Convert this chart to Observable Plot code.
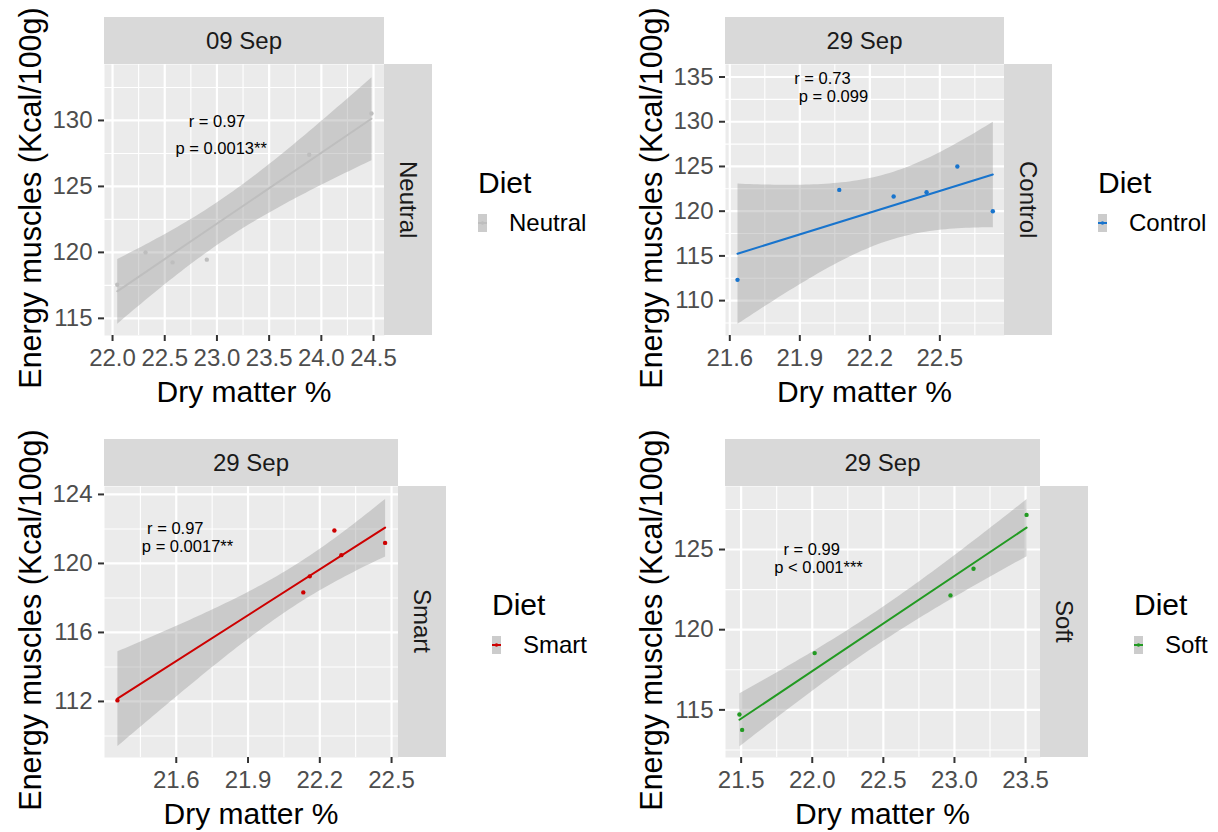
<!DOCTYPE html>
<html>
<head>
<meta charset="utf-8">
<script src="https://cdn.jsdelivr.net/npm/d3@7"></script>
<script src="https://cdn.jsdelivr.net/npm/@observablehq/plot@0.6"></script>
<style>
  body { margin: 0; background: #fff; }
  #root { position: relative; width: 1218px; height: 832px; overflow: hidden;
          font-family: "Liberation Sans", Arial, sans-serif; background: #fff; }
  .strip { position: absolute; background: #D9D9D9; color: #1A1A1A; font-size: 24px;
           display: flex; align-items: center; justify-content: center; white-space: nowrap; }
  .vtext { writing-mode: vertical-rl; }
  .title { position: absolute; font-size: 30px; color: #000; white-space: nowrap;
           transform: translate(-50%, -50%); line-height: 1; }
  .ytitle { transform: translate(-50%, -50%) rotate(-90deg); font-size: 30.5px; }
  .legtitle { position: absolute; font-size: 30px; color: #000; white-space: nowrap; line-height: 1; }
  .legtext { position: absolute; font-size: 24px; color: #000; white-space: nowrap; line-height: 1;
             transform: translateY(-50%); }
  .plotbox { position: absolute; }
</style>
</head>
<body>
<div id="root"></div>
<script>
// ---------------- data ----------------
const diets = ["Neutral", "Control", "Smart", "Soft"];
const dates = ["09 Sep", "29 Sep", "29 Sep", "29 Sep"];

const neutralDry    = [22.045, 22.316, 22.575, 22.903, 23.884, 24.48];
const neutralEnergy = [117.55, 120.0, 119.24, 119.45, 127.4, 130.53];

const controlDry    = [21.633, 22.069, 22.302, 22.443, 22.575, 22.727];
const controlEnergy = [112.32, 122.38, 121.64, 122.13, 125.0, 120.0];

const smartDry      = [21.354, 22.131, 22.158, 22.261, 22.290, 22.473];
const smartEnergy   = [112.06, 118.32, 119.25, 121.91, 120.48, 121.19];

const softDry       = [21.488, 21.507, 22.017, 22.972, 23.134, 23.507];
const softEnergy    = [114.71, 113.75, 118.54, 122.14, 123.80, 127.16];

// tick values
const neutralXTicks = [22.0, 22.5, 23.0, 23.5, 24.0, 24.5];
const neutralYTicks = [115, 120, 125, 130];
const controlXTicks = [21.6, 21.9, 22.2, 22.5];
const controlYTicks = [110, 115, 120, 125, 130, 135];
const smartXTicks   = [21.6, 21.9, 22.2, 22.5];
const smartYTicks   = [112, 116, 120, 124];
const softXTicks    = [21.5, 22.0, 22.5, 23.0, 23.5];
const softYTicks    = [115, 120, 125];

// correlation annotations
const statR = ["r = 0.97", "r = 0.73", "r = 0.97", "r = 0.99"];
const statP = ["p = 0.0013**", "p = 0.099", "p = 0.0017**", "p < 0.001***"];
const statRX = [23.0, 21.997, 21.596, 21.996];
const statRY = [129.9, 134.85, 122.0, 124.98];
const statPX = [23.041, 22.044, 21.647, 22.044];
const statPY = [127.88, 132.8, 120.95, 123.86];

const xLabel = "Dry matter %";
const yLabel = "Energy muscles (Kcal/100g)";
const legendTitle = "Diet";

// ---------------- layout / styles ----------------
const colors = ["#BEBEBE", "#1874CD", "#CD0000", "#229A22"];
const xs = [neutralDry, controlDry, smartDry, softDry];
const ys = [neutralEnergy, controlEnergy, smartEnergy, softEnergy];
const xTicksAll = [neutralXTicks, controlXTicks, smartXTicks, softXTicks];
const yTicksAll = [neutralYTicks, controlYTicks, smartYTicks, softYTicks];

const layout = [
  {left: 104, top: 64,  w: 280, h: 271, xd: [21.923, 24.605], yd: [113.70, 134.24]},
  {left: 725, top: 64,  w: 279, h: 271, xd: [21.5816, 22.777], yd: [106.10, 136.40]},
  {left: 104, top: 486, w: 294, h: 271, xd: [21.300, 22.529], yd: [108.75, 124.46]},
  {left: 725, top: 486, w: 315, h: 271, xd: [21.390, 23.605], yd: [112.03, 128.93]}
];

function minorTicks(ticks, domain) {
  const step = ticks[1] - ticks[0];
  const out = [];
  for (let i = -1; i < ticks.length; i++) {
    const v = (i < 0 ? ticks[0] - step : ticks[i]) + step / 2;
    if (v > domain[0] && v < domain[1]) out.push(+v.toFixed(6));
  }
  return out;
}

const root = document.getElementById("root");
function div(cls, style, text) {
  const d = document.createElement("div");
  if (cls) d.className = cls;
  Object.assign(d.style, style);
  if (text != null) d.textContent = text;
  root.appendChild(d);
  return d;
}

const ML = 72, MB = 48;

diets.forEach((diet, i) => {
  const L = layout[i];
  const data = xs[i].map((x, j) => ({dry: x, energy: ys[i][j]}));
  const xt = xTicksAll[i], yt = yTicksAll[i];
  const xm = minorTicks(xt, L.xd), ym = minorTicks(yt, L.yd);
  const ann = [
    {x: statRX[i], y: statRY[i], t: statR[i]},
    {x: statPX[i], y: statPY[i], t: statP[i]}
  ];

  const chart = Plot.plot({
    width: L.w + ML,
    height: L.h + MB,
    marginLeft: ML, marginRight: 0, marginTop: 0, marginBottom: MB,
    style: {fontFamily: "Liberation Sans, Arial, sans-serif", fontSize: "24px",
            background: "transparent", overflow: "visible", maxWidth: "none"},
    x: {domain: L.xd},
    y: {domain: L.yd},
    marks: [
      Plot.frame({fill: "#EBEBEB", stroke: null}),
      Plot.ruleX(xm, {stroke: "#FFFFFF", strokeWidth: 1.1}),
      Plot.ruleY(ym, {stroke: "#FFFFFF", strokeWidth: 1.1}),
      Plot.ruleX(xt, {stroke: "#FFFFFF", strokeWidth: 2.2}),
      Plot.ruleY(yt, {stroke: "#FFFFFF", strokeWidth: 2.2}),
      Plot.linearRegressionY(data, {x: "dry", y: "energy", stroke: colors[i], strokeWidth: 2,
        fill: "#999999", fillOpacity: 0.4, ci: 0.95}),
      Plot.dot(data, {x: "dry", y: "energy", r: 2.2, fill: colors[i], stroke: null}),
      Plot.text(ann, {x: "x", y: "y", text: "t", fontSize: 16.5, fill: "#000"}),
      Plot.axisX({ticks: xt, tickFormat: d3.format(".1f"), tickSize: 6, tickPadding: 7,
        label: null, stroke: "#333333", strokeWidth: 2, fill: "#4D4D4D", fontSize: 24}),
      Plot.axisY({ticks: yt, tickFormat: d3.format("d"), tickSize: 6, tickPadding: 6,
        label: null, stroke: "#333333", strokeWidth: 2, fill: "#4D4D4D", fontSize: 24})
    ]
  });
  const box = div("plotbox", {left: (L.left - ML) + "px", top: L.top + "px"});
  box.appendChild(chart);

  // strips
  div("strip", {left: L.left + "px", top: (L.top - 47) + "px", width: L.w + "px", height: "47px"}, dates[i]);
  const rs = div("strip", {left: (L.left + L.w) + "px", top: L.top + "px", width: "48px", height: L.h + "px"});
  const rt = document.createElement("span"); rt.className = "vtext"; rt.textContent = diet; rs.appendChild(rt);

  // axis titles
  const cx = L.left + L.w / 2, cy = L.top + L.h / 2;
  div("title", {left: cx + "px", top: (L.top + L.h + 57) + "px"}, xLabel);
  div("title ytitle", {left: (L.left - 74) + "px", top: (cy - 2) + "px"}, yLabel);

  // legend
  const lx = L.left + L.w + 48 + 46;
  div("legtitle", {left: lx + "px", top: (cy - 32) + "px"}, legendTitle);
  const key = document.createElementNS("http://www.w3.org/2000/svg", "svg");
  key.setAttribute("width", 9); key.setAttribute("height", 18);
  key.style.position = "absolute"; key.style.left = lx + "px"; key.style.top = (cy + 14) + "px";
  key.innerHTML = `<rect width="9" height="18" fill="#CCCCCC"/>` +
    `<line x1="0" x2="9" y1="9" y2="9" stroke="${colors[i]}" stroke-width="2"/>` +
    `<circle cx="4.5" cy="9" r="1.8" fill="${colors[i]}"/>`;
  root.appendChild(key);
  div("legtext", {left: (lx + 31) + "px", top: (cy + 23) + "px"}, diet);
});
</script>
</body>
</html>
